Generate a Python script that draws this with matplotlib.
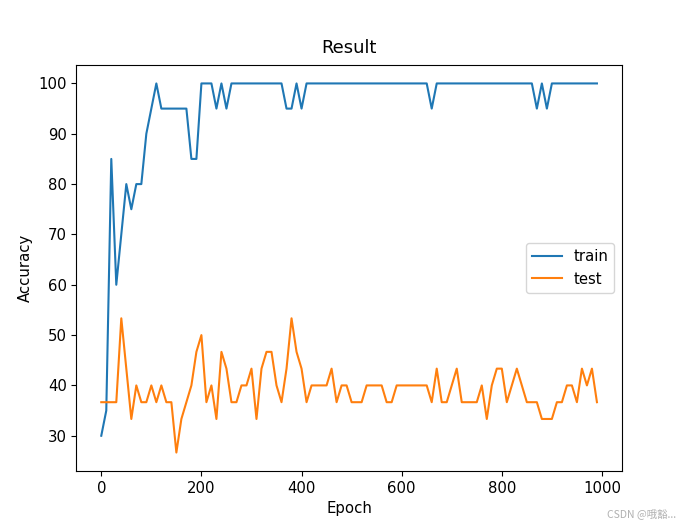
import numpy as np
import matplotlib
matplotlib.use("Agg")
import matplotlib.pyplot as plt

plt.rcParams['font.size'] = 10.7

# epochs 0..990, step 10
epoch = list(range(0, 1000, 10))

train_acc = [30, 35, 85, 60, 70, 80, 75, 80, 80, 90,
             95, 100, 95, 95, 95, 95, 95, 95, 85, 85,
             100, 100, 100, 95, 100, 95, 100, 100, 100, 100,
             100, 100, 100, 100, 100, 100, 100, 95, 95, 100,
             95, 100, 100, 100, 100, 100, 100, 100, 100, 100,
             100, 100, 100, 100, 100, 100, 100, 100, 100, 100,
             100, 100, 100, 100, 100, 100, 95, 100, 100, 100,
             100, 100, 100, 100, 100, 100, 100, 100, 100, 100,
             100, 100, 100, 100, 100, 100, 100, 95, 100, 95,
             100, 100, 100, 100, 100, 100, 100, 100, 100, 100]

a = 100 / 30  # test set has 30 samples
test_hits = [11, 11, 11, 11, 16, 13, 10, 12, 11, 11,
             12, 11, 12, 11, 11, 8, 10, 11, 12, 14,
             15, 11, 12, 10, 14, 13, 11, 11, 12, 12,
             13, 10, 13, 14, 14, 12, 11, 13, 16, 14,
             13, 11, 12, 12, 12, 12, 13, 11, 12, 12,
             11, 11, 11, 12, 12, 12, 12, 11, 11, 12,
             12, 12, 12, 12, 12, 12, 11, 13, 11, 11,
             12, 13, 11, 11, 11, 11, 12, 10, 12, 13,
             13, 11, 12, 13, 12, 11, 11, 11, 10, 10,
             10, 11, 11, 12, 12, 11, 13, 12, 13, 11]
test_acc = [h * a for h in test_hits]

fig = plt.figure(figsize=(6.86, 5.27), dpi=100)
plt.subplots_adjust(left=0.1115, right=0.9063, top=0.8767, bottom=0.1063)

plt.plot(epoch, train_acc, label='train')
plt.plot(epoch, test_acc, label='test')
plt.title('Result', pad=8.5)
plt.xlabel('Epoch')
plt.ylabel('Accuracy')
plt.legend(loc='center right')

# watermark
fig.text(0.985, 0.015, 'CSDN @哦豁...', ha='right', va='bottom', fontsize=7.5,
         color='#b0b0b0', family=['Noto Sans CJK SC', 'DejaVu Sans'])

plt.savefig('out.png', dpi=100)
